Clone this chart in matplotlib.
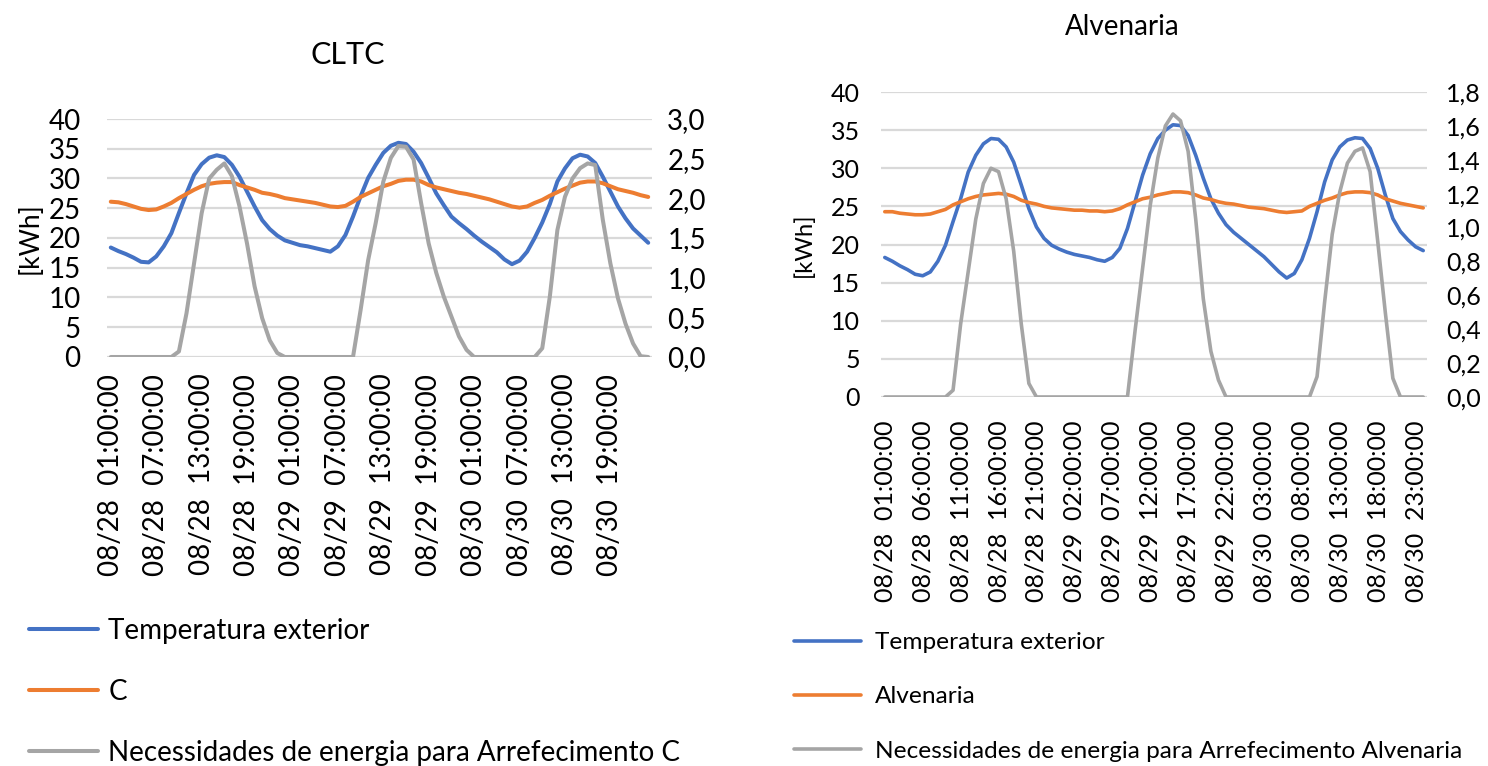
import matplotlib
matplotlib.use("Agg")
import matplotlib.pyplot as plt
from matplotlib.ticker import FuncFormatter, MultipleLocator
import numpy as np
import pandas as pd

plt.rcParams['font.family'] = ['Lato', 'DejaVu Sans']

# Hourly timestamps, 28 Aug 01:00 to 31 Aug 00:00
hours = pd.date_range("2021-08-28 01:00", periods=72, freq="h")
hour_labels = [t.strftime("%m/%d  %H:%M:%S") for t in hours]

# --- CLTC building -------------------------------------------------------
temp_ext_cltc = [
    18.4, 17.8, 17.3, 16.7, 16.0, 15.9, 16.9, 18.6, 20.8, 24.2, 27.5, 30.6,
    32.4, 33.5, 33.9, 33.6, 32.3, 30.3, 27.8, 25.3, 23.0, 21.5, 20.4, 19.6,
    19.2, 18.8, 18.6, 18.3, 18.0, 17.7, 18.6, 20.5, 23.6, 27.0, 30.1, 32.3,
    34.3, 35.5, 36.0, 35.8, 34.5, 32.6, 30.1, 27.5, 25.5, 23.6, 22.5, 21.5,
    20.4, 19.4, 18.5, 17.6, 16.4, 15.6, 16.2, 17.7, 20.0, 22.6, 25.7, 29.5,
    31.7, 33.4, 34.0, 33.7, 32.6, 30.3, 27.8, 25.3, 23.3, 21.6, 20.4, 19.2,
]
temp_int_cltc = [
    26.1, 26.0, 25.7, 25.3, 24.9, 24.7, 24.8, 25.3, 25.9, 26.7, 27.4, 28.1,
    28.7, 29.1, 29.3, 29.4, 29.4, 28.9, 28.5, 28.1, 27.6, 27.4, 27.1, 26.7,
    26.5, 26.3, 26.1, 25.9, 25.6, 25.3, 25.2, 25.4, 26.1, 26.9, 27.5, 28.1,
    28.7, 29.1, 29.6, 29.8, 29.8, 29.5, 28.9, 28.5, 28.2, 27.9, 27.6, 27.4,
    27.1, 26.8, 26.5, 26.1, 25.7, 25.3, 25.1, 25.3, 25.9, 26.4, 27.1, 27.7,
    28.3, 28.8, 29.3, 29.5, 29.5, 29.2, 28.7, 28.2, 27.9, 27.6, 27.2, 26.9,
]
cooling_cltc = [
    0.00, 0.00, 0.00, 0.00, 0.00, 0.00, 0.00, 0.00, 0.00, 0.07, 0.55, 1.18,
    1.81, 2.25, 2.36, 2.44, 2.28, 1.90, 1.43, 0.89, 0.49, 0.21, 0.05, 0.00,
    0.00, 0.00, 0.00, 0.00, 0.00, 0.00, 0.00, 0.00, 0.00, 0.59, 1.22, 1.69,
    2.21, 2.51, 2.66, 2.65, 2.49, 1.94, 1.43, 1.06, 0.76, 0.51, 0.26, 0.09,
    0.00, 0.00, 0.00, 0.00, 0.00, 0.00, 0.00, 0.00, 0.00, 0.11, 0.76, 1.60,
    2.02, 2.25, 2.38, 2.44, 2.42, 1.73, 1.18, 0.74, 0.42, 0.17, 0.01, 0.00,
]

# --- Alvenaria (masonry) building ---------------------------------------
temp_ext_alv = [
    18.3, 17.8, 17.2, 16.7, 16.1, 15.9, 16.4, 17.8, 19.9, 23.0, 26.0, 29.5,
    31.7, 33.2, 33.9, 33.8, 32.8, 30.8, 27.8, 24.7, 22.3, 20.8, 19.9, 19.4,
    19.0, 18.7, 18.5, 18.3, 18.0, 17.8, 18.3, 19.5, 22.1, 25.6, 29.1, 31.9,
    33.9, 35.0, 35.7, 35.6, 34.3, 31.7, 28.7, 26.0, 24.1, 22.6, 21.6, 20.8,
    20.0, 19.2, 18.4, 17.4, 16.4, 15.6, 16.2, 18.0, 20.8, 24.3, 28.2, 31.1,
    32.8, 33.7, 34.0, 33.9, 32.6, 30.0, 26.5, 23.4, 21.7, 20.6, 19.7, 19.2,
]
temp_int_alv = [
    24.3, 24.3, 24.1, 24.0, 23.9, 23.9, 24.0, 24.3, 24.6, 25.2, 25.6, 26.0,
    26.3, 26.5, 26.6, 26.7, 26.6, 26.3, 25.8, 25.5, 25.3, 25.0, 24.8, 24.7,
    24.6, 24.5, 24.5, 24.4, 24.4, 24.3, 24.4, 24.7, 25.2, 25.6, 26.0, 26.2,
    26.5, 26.7, 26.9, 26.9, 26.8, 26.5, 26.1, 25.9, 25.6, 25.4, 25.3, 25.1,
    24.9, 24.8, 24.7, 24.5, 24.3, 24.2, 24.3, 24.4, 25.0, 25.4, 25.8, 26.1,
    26.5, 26.8, 26.9, 26.9, 26.8, 26.5, 26.0, 25.7, 25.4, 25.2, 25.0, 24.8,
]
cooling_alv = [
    0.00, 0.00, 0.00, 0.00, 0.00, 0.00, 0.00, 0.00, 0.00, 0.04, 0.43, 0.74,
    1.05, 1.26, 1.35, 1.33, 1.17, 0.86, 0.43, 0.08, 0.00, 0.00, 0.00, 0.00,
    0.00, 0.00, 0.00, 0.00, 0.00, 0.00, 0.00, 0.00, 0.00, 0.39, 0.76, 1.13,
    1.41, 1.60, 1.67, 1.63, 1.45, 1.05, 0.58, 0.27, 0.10, 0.00, 0.00, 0.00,
    0.00, 0.00, 0.00, 0.00, 0.00, 0.00, 0.00, 0.00, 0.00, 0.12, 0.56, 0.96,
    1.21, 1.38, 1.45, 1.47, 1.33, 0.92, 0.50, 0.11, 0.00, 0.00, 0.00, 0.00,
]

BLUE, ORANGE, GREY = "#4472C4", "#ED7D31", "#A5A5A5"
GRID = "#D9D9D9"
W, H = 1488, 766

comma = FuncFormatter(lambda v, p: f"{v:.1f}".replace(".", ","))

fig = plt.figure(figsize=(W / 100, H / 100), dpi=100)


def draw_panel(rect, title, title_xy, t_ext, t_int, cool, int_label,
               cool_label, sec_max, sec_step, label_every, fs, title_fs, lw,
               pads, ylabel_x, leg_anchor, leg_fs, leg_handle, leg_textpad,
               leg_space):
    ax = fig.add_axes(rect)
    x = np.arange(len(hour_labels))
    l1, = ax.plot(x, t_ext, color=BLUE, lw=lw, solid_capstyle="round",
                  solid_joinstyle="round", zorder=3)
    l2, = ax.plot(x, t_int, color=ORANGE, lw=lw, solid_capstyle="round",
                  solid_joinstyle="round", zorder=4)
    ax.set_xlim(-0.5, len(x) - 0.5)
    ax.set_ylim(0, 40)
    ax.yaxis.set_major_locator(MultipleLocator(5))
    ax.grid(axis="y", color=GRID, lw=1.6)
    ax.set_axisbelow(True)
    for s in ax.spines.values():
        s.set_visible(False)
    ticks = x[::label_every]
    ax.set_xticks(ticks)
    ax.set_xticklabels([hour_labels[i] for i in ticks], rotation=90,
                       fontsize=fs, va="top", ha="center")
    xpad, ypad, y2pad = pads
    ax.tick_params(axis="x", length=0, pad=xpad)
    ax.tick_params(axis="y", length=0, pad=ypad, labelsize=fs)
    ax.set_ylabel("[kWh]", fontsize=fs * 0.95)
    ax.yaxis.set_label_coords(ylabel_x, 0.5)

    ax2 = ax.twinx()
    l3, = ax2.plot(x, cool, color=GREY, lw=lw, solid_capstyle="round",
                   solid_joinstyle="round")
    ax2.set_ylim(0, sec_max)
    ax2.yaxis.set_major_locator(MultipleLocator(sec_step))
    ax2.yaxis.set_major_formatter(comma)
    ax2.tick_params(axis="y", length=0, pad=y2pad, labelsize=fs)
    for s in ax2.spines.values():
        s.set_visible(False)

    fig.text(title_xy[0] / W, 1 - title_xy[1] / H, title,
             ha="center", va="center", fontsize=title_fs)

    fig.legend([l1, l2, l3],
               ["Temperatura exterior", int_label, cool_label],
               loc="upper left",
               bbox_to_anchor=(leg_anchor[0] / W, 1 - leg_anchor[1] / H),
               frameon=False, fontsize=leg_fs, handlelength=leg_handle,
               handletextpad=leg_textpad, labelspacing=leg_space,
               borderpad=0, borderaxespad=0)
    return ax, ax2


draw_panel([107 / W, 1 - 357 / H, 545 / W, 238 / H],
           "CLTC", (348, 55), temp_ext_cltc, temp_int_cltc, cooling_cltc,
           "C", "Necessidades de energia para Arrefecimento C",
           3.0, 0.5, 6, 20, 22, 2.9,
           (12, 19, 11), -0.118, (29, 618), 20, 2.5, 0.36, 1.26)

draw_panel([881 / W, 1 - 397 / H, 546 / W, 305 / H],
           "Alvenaria", (1122, 27), temp_ext_alv, temp_int_alv, cooling_alv,
           "Alvenaria", "Necessidades de energia para Arrefecimento Alvenaria",
           1.8, 0.2, 5, 18, 20, 2.6,
           (17, 15, 14), -0.121, (794, 632), 17.6, 2.75, 0.55, 1.36)

fig.savefig("out.png", dpi=100)
